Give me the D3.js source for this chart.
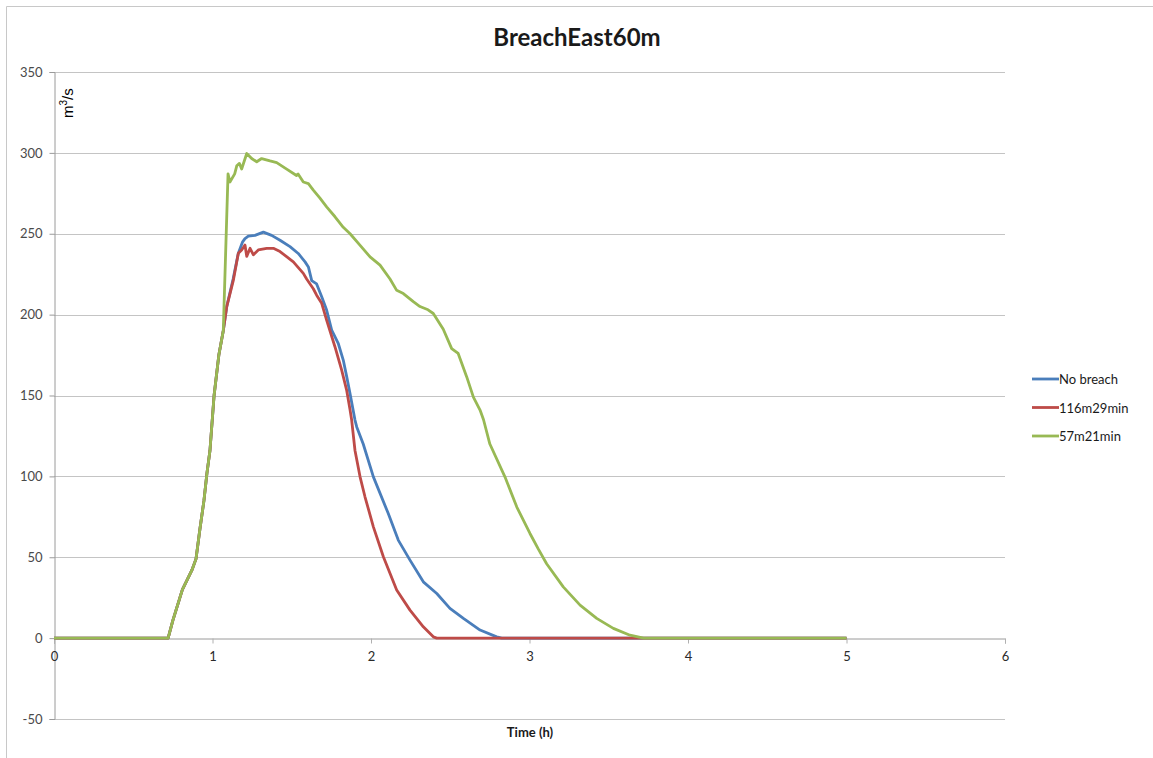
<!DOCTYPE html>
<html>
<head>
<meta charset="utf-8">
<script src="https://cdn.jsdelivr.net/npm/d3@7"></script>
<style>
  html, body { margin: 0; padding: 0; background: #ffffff; }
  svg { display: block; }
</style>
</head>
<body>
<svg id="chart" width="1153" height="758"></svg>
<script>
// Discharge hydrographs, time in hours vs discharge in m3/s
const chartTitle = "BreachEast60m";
const xTitle = "Time (h)";
const seriesNames = ["No breach", "116m29min", "57m21min"];
const seriesColors = ["#4a7ebb", "#be4b48", "#98b954"];
const xTicks = [0, 1, 2, 3, 4, 5, 6];
const yTicks = [-50, 0, 50, 100, 150, 200, 250, 300, 350];

// common rising limb shared by all three runs
const risingLimb = [
  [0, 0], [0.72, 0], [0.75, 11], [0.81, 30], [0.87, 42], [0.896, 49],
  [0.92, 67], [0.946, 85], [0.965, 102], [0.984, 116], [1.01, 150],
  [1.04, 175], [1.068, 190]
];

const noBreach = [
  [1.09, 205], [1.13, 222], [1.163, 238], [1.19, 245], [1.205, 247],
  [1.226, 248.5], [1.268, 249], [1.321, 251], [1.373, 249], [1.426, 246],
  [1.489, 242], [1.541, 237.8], [1.584, 232.6], [1.605, 229.5], [1.626, 221],
  [1.657, 219], [1.689, 211], [1.72, 202.8], [1.752, 190.4], [1.794, 182],
  [1.825, 171.9], [1.847, 161.5], [1.868, 151], [1.899, 134.8], [1.91, 130.6],
  [1.951, 120], [2.015, 99.7], [2.109, 77], [2.172, 60.6], [2.246, 48.2],
  [2.33, 34.8], [2.415, 27.6], [2.498, 18.4], [2.583, 12.2], [2.688, 5],
  [2.793, 0.8], [2.825, 0], [5.0, 0]
];

const breach116 = [
  [1.09, 205], [1.131, 221], [1.163, 238], [1.184, 240], [1.205, 243],
  [1.216, 236], [1.237, 241], [1.258, 237], [1.289, 240], [1.342, 241],
  [1.384, 241], [1.426, 239], [1.51, 232.6], [1.573, 225.5], [1.594, 222],
  [1.636, 216], [1.657, 212], [1.689, 207], [1.72, 196.6], [1.773, 180],
  [1.815, 165.7], [1.847, 153], [1.868, 141], [1.878, 134.8], [1.899, 116],
  [1.931, 99.7], [1.962, 87.4], [2.015, 68.8], [2.078, 50.3], [2.162, 29.7],
  [2.246, 17.3], [2.33, 7], [2.393, 0.8], [2.415, 0], [5.0, 0]
];

const breach57 = [
  [1.098, 287], [1.11, 282], [1.14, 287], [1.153, 292], [1.17, 293.5],
  [1.184, 290], [1.216, 299.6], [1.247, 296.5], [1.279, 294.5], [1.31, 296.5],
  [1.363, 295], [1.405, 294], [1.468, 290], [1.53, 286], [1.54, 287],
  [1.573, 282], [1.605, 281], [1.636, 277], [1.678, 272], [1.72, 266.6],
  [1.773, 260.5], [1.825, 254], [1.868, 250], [1.93, 243], [1.994, 235.7],
  [2.057, 230.6], [2.12, 222], [2.162, 215], [2.204, 213], [2.267, 208],
  [2.309, 205], [2.36, 203], [2.393, 200.7], [2.456, 191], [2.509, 179],
  [2.55, 176], [2.604, 161.5], [2.646, 149], [2.688, 141], [2.71, 135],
  [2.75, 120], [2.845, 99.7], [2.92, 81], [3.003, 64.7], [3.056, 55],
  [3.108, 46], [3.213, 31.7], [3.319, 20.4], [3.424, 12.2], [3.529, 6],
  [3.634, 1.8], [3.72, 0], [5.0, 0]
];

const seriesData = [noBreach, breach116, breach57].map(s => risingLimb.concat(s));

const svg = d3.select("#chart");
const plot = { left: 54, right: 1005, top: 72, bottom: 719 };

const x = d3.scaleLinear().domain([0, 6]).range([plot.left, plot.right]);
const y = d3.scaleLinear().domain([-50, 350]).range([plot.bottom, plot.top]);

// outer chart frame
svg.append("path")
  .attr("d", "M6.5,758 L6.5,6.5 L1153,6.5")
  .attr("fill", "none").attr("stroke", "#c8c8c8").attr("stroke-width", 1);

// horizontal gridlines
svg.append("g")
  .selectAll("line")
  .data(yTicks.filter(v => v !== 0))
  .join("line")
  .attr("x1", plot.left).attr("x2", plot.right)
  .attr("y1", d => Math.round(y(d)) + 0.5).attr("y2", d => Math.round(y(d)) + 0.5)
  .attr("stroke", "#c4c4c4").attr("stroke-width", 1.2);

// y axis
const yAxis = svg.append("g")
  .attr("transform", `translate(${plot.left + 0.5},0)`)
  .call(d3.axisLeft(y).tickValues(yTicks).tickSize(5).tickPadding(7).tickFormat(d => String(d)));
yAxis.select(".domain").attr("stroke", "#9a9a9a");
yAxis.selectAll(".tick line").attr("stroke", "#9a9a9a");
yAxis.selectAll(".tick text")
  .attr("font-family", "Lato, 'Open Sans', sans-serif")
  .attr("font-size", 13).attr("fill", "#4a4a4a");

// x axis on the zero line
const xAxis = svg.append("g")
  .attr("transform", `translate(0,${Math.round(y(0)) + 0.5})`)
  .call(d3.axisBottom(x).tickValues(xTicks).tickSize(5).tickPadding(8).tickFormat(d => String(d)));
xAxis.select(".domain").attr("stroke", "#9a9a9a");
xAxis.selectAll(".tick line").attr("stroke", "#b0b0b0");
xAxis.selectAll(".tick text")
  .attr("font-family", "Lato, 'Open Sans', sans-serif")
  .attr("font-size", 13).attr("fill", "#2a2a2a");

// series lines
const line = d3.line().x(d => x(d[0])).y(d => y(d[1]));
svg.append("g")
  .selectAll("path")
  .data(seriesData)
  .join("path")
  .attr("d", line)
  .attr("fill", "none")
  .attr("stroke", (d, i) => seriesColors[i])
  .attr("stroke-width", 2.8)
  .attr("stroke-linejoin", "round");

// title
svg.append("text")
  .attr("x", 577).attr("y", 46)
  .attr("text-anchor", "middle")
  .attr("font-family", "Lato, 'Open Sans', sans-serif")
  .attr("font-weight", "bold").attr("font-size", 24)
  .attr("fill", "#1a1a1a")
  .text(chartTitle);

// unit label, rotated
const unit = svg.append("text")
  .attr("transform", "translate(73,118) rotate(-90)")
  .attr("font-family", "'Liberation Sans', Arial, sans-serif")
  .attr("font-size", 15).attr("fill", "#000");
unit.append("tspan").text("m");
unit.append("tspan").attr("dy", -6).attr("font-size", 10).text("3");
unit.append("tspan").attr("dy", 6).text("/s");

// x axis title
svg.append("text")
  .attr("x", 530).attr("y", 737)
  .attr("text-anchor", "middle")
  .attr("font-family", "Lato, 'Open Sans', sans-serif")
  .attr("font-weight", "bold").attr("font-size", 13)
  .attr("fill", "#1a1a1a")
  .text(xTitle);

// legend
const legend = svg.append("g").attr("transform", "translate(1032,379)");
const rows = legend.selectAll("g")
  .data(seriesNames)
  .join("g")
  .attr("transform", (d, i) => `translate(0,${i * 28.5})`);
rows.append("line")
  .attr("x1", 0).attr("x2", 27).attr("y1", 0).attr("y2", 0)
  .attr("stroke", (d, i) => seriesColors[i]).attr("stroke-width", 2.8);
rows.append("text")
  .attr("x", 27).attr("y", 5)
  .attr("font-family", "Lato, 'Open Sans', sans-serif")
  .attr("font-size", 13).attr("fill", "#1a1a1a")
  .text(d => d);
</script>
</body>
</html>
